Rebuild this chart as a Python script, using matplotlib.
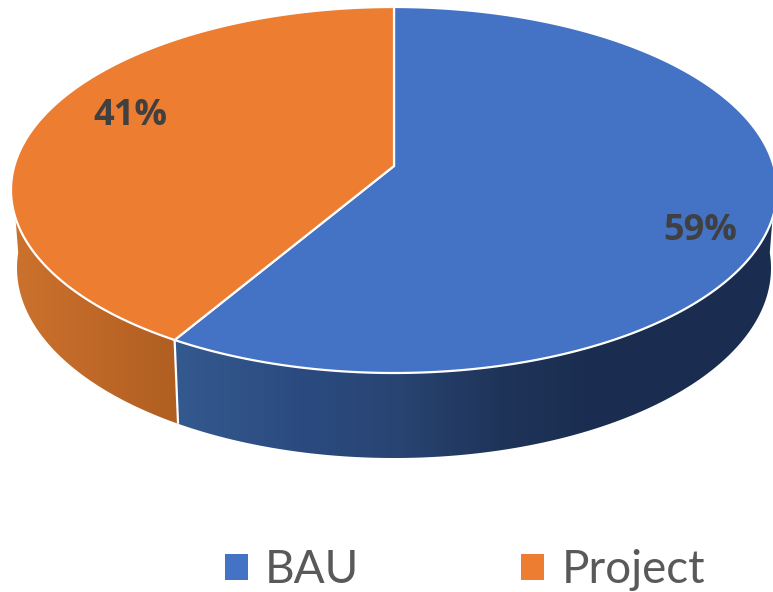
import numpy as np
import matplotlib
matplotlib.use("Agg")
import matplotlib.pyplot as plt
from matplotlib.patches import Polygon
from matplotlib.path import Path
from matplotlib.transforms import Affine2D, Transform

categories = ["BAU", "Project"]
shares = [59, 41]
colors = ["#4472C4", "#ED7D31"]
text_dark = "#404040"
text_legend = "#595959"

W, H = 773, 592
CX, CY, RX, RY = 394.0, 190.0, 383.0, 183.0   # top rim ellipse, pixels
RX2, CY2, RY2 = 377.0, 268.0, 190.0           # bottom rim ellipse, pixels
APEX_SHIFT = (CY - 166.0) / RY                # perspective shift of pie centre
ANGLE_SHIFT = 0.08                            # perspective warp of rim angles


def warp_rim(x, y):
    """Perspective warp that keeps the unit circle on itself."""
    d = 1 + ANGLE_SHIFT * y
    return x * np.sqrt(1 - ANGLE_SHIFT ** 2) / d, (y + ANGLE_SHIFT) / d


class PieWarp(Transform):
    input_dims = output_dims = 2

    def transform_non_affine(self, xy):
        xy = np.asarray(xy, float)
        r = np.hypot(xy[:, 0], xy[:, 1])
        safe = np.where(r == 0, 1, r)
        rx, ry = warp_rim(xy[:, 0] / safe, xy[:, 1] / safe)
        return np.column_stack([r * rx, r * ry + (1 - r) * APEX_SHIFT])

    def transform_path_non_affine(self, path):
        poly = path.to_polygons(Affine2D().scale(3000), closed_only=True)[0] / 3000
        return Path(self.transform_non_affine(poly), closed=True)


fig = plt.figure(figsize=(W / 100, H / 100), dpi=100)
ax = fig.add_axes([0, 0, 1, 1])

wedges, _, autotexts = ax.pie(
    shares, colors=colors, startangle=90, counterclock=False, radius=1,
    autopct="%1.0f%%",
    wedgeprops=dict(edgecolor="white", linewidth=1.6),
    textprops=dict(family="Open Sans", fontweight="bold", fontsize=26, color=text_dark),
)
warp = PieWarp()
for w in wedges:
    w.set_transform(warp + ax.transData)

xlim = (-CX / RX, (W - CX) / RX)
ylim = ((CY - H) / RY, CY / RY)


def top_rim(a):
    x, y = warp_rim(np.cos(a), np.sin(a))
    return x, y


def bottom_rim(a):
    x, y = warp_rim(np.cos(a), np.sin(a))
    return x * RX2 / RX, (CY - CY2 - RY2 * (-y)) / RY


def side(a0, a1, xstops, cstops):
    ang = np.radians(np.linspace(a0, a1, 300))
    tx, ty = top_rim(ang)
    bx, by = bottom_rim(ang)
    poly = Polygon(np.column_stack([np.r_[tx, bx[::-1]], np.r_[ty, by[::-1]]]),
                   closed=True, transform=ax.transData)
    rgb = np.array([matplotlib.colors.to_rgb(c) for c in cstops])
    xs = np.linspace(0, W, 774)
    grad = np.stack([np.interp(xs, xstops, rgb[:, i]) for i in range(3)], axis=1)[None, :, :]
    im = ax.imshow(grad, extent=(xlim[0], xlim[1], ylim[0], ylim[1]), aspect="auto",
                   interpolation="bilinear", zorder=0.5)
    im.set_clip_path(poly)


# angle (in the undistorted pie) of the BAU/Project seam on the front of the disc
seam = 90 - 360 * shares[0] / sum(shares) + 360
side(180, seam, [11, 60, 178], ["#CC722E", "#C56C2A", "#B05E22"])
side(seam, 360, [178, 300, 400, 500, 600, 780],
     ["#34598F", "#2B4B80", "#284472", "#1F3459", "#1A2D50", "#1A2D50"])

a = np.radians(seam)
sx0, sy0 = top_rim(a)
sx1, sy1 = bottom_rim(a)
ax.plot([sx0, sx1], [sy0, sy1], color="white", lw=1.6, zorder=0.8, solid_capstyle="butt")

ax.set_aspect("auto")
ax.set_xlim(*xlim)
ax.set_ylim(*ylim)

# Data labels
label_px = [(700, 231), (130, 116)]
for t, (px, py) in zip(autotexts, label_px):
    t.set_position(((px - CX) / RX, (CY - py) / RY))
    t.set_ha("center")
    t.set_va("center")

leg = fig.legend(
    wedges, categories, ncol=2, frameon=False, loc="center",
    bbox_to_anchor=(465 / W, 1 - 570 / H),
    prop=dict(family="Lato", size=33),
    labelcolor=text_legend,
    handlelength=0.5, handleheight=0.5, handletextpad=0.375, columnspacing=3.54,
    borderpad=0, borderaxespad=0,
)
for h in leg.legend_handles:
    h.set_edgecolor("none")
    h.set_linewidth(0)

fig.savefig("out.png", dpi=100)
